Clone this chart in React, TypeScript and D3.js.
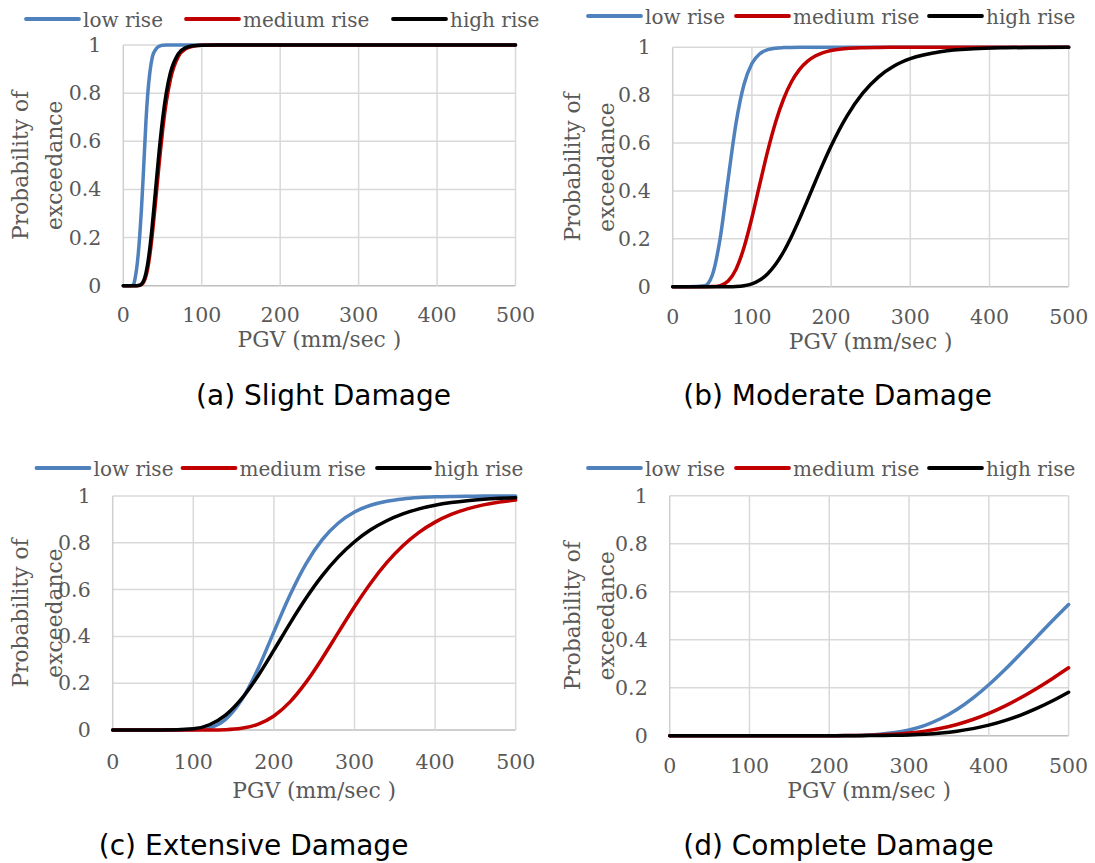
import React from 'react';
import * as d3 from 'd3';

// ---------- data ----------
const seriesNames = ['low rise', 'medium rise', 'high rise'];
const seriesColors = ['#4F81BD', '#C00000', '#000000'];
const panelTitles = ['(a) Slight Damage', '(b) Moderate Damage', '(c) Extensive Damage', '(d) Complete Damage'];
const xTickValues = [0, 100, 200, 300, 400, 500];
const yTickValues = [0, 0.2, 0.4, 0.6, 0.8, 1];
const yTickLabels = ['0', '0.2', '0.4', '0.6', '0.8', '1'];
const xAxisTitle = 'PGV (mm/sec )';
const yAxisTitleLines = ['Probability of', 'exceedance'];

// (a) Slight damage
const slightPGV = [0, 10, 13, 15, 17, 19, 21, 23, 25, 27, 29, 31, 34, 37, 41, 46, 50, 55, 60, 70, 80, 90, 100, 120, 150, 200, 300, 400, 500];
const slightLow = [0, 0, 0.005, 0.03, 0.07, 0.13, 0.21, 0.31, 0.43, 0.56, 0.69, 0.79, 0.89, 0.95, 0.98, 0.995, 0.999, 1, 1, 1, 1, 1, 1, 1, 1, 1, 1, 1, 1];
const slightMedium = [0, 0, 0, 0, 0.0001, 0.0004, 0.0015, 0.0043, 0.0106, 0.0224, 0.0416, 0.07, 0.1315, 0.2134, 0.3444, 0.5167, 0.6416, 0.767, 0.8563, 0.9512, 0.985, 0.9956, 0.9988, 1, 1, 1, 1, 1, 1];
const slightHigh = [0, 0, 0, 0, 0.0001, 0.0006, 0.0022, 0.0063, 0.0148, 0.0302, 0.0545, 0.089, 0.1607, 0.2525, 0.393, 0.568, 0.6886, 0.8046, 0.8836, 0.963, 0.9893, 0.997, 0.9992, 1, 1, 1, 1, 1, 1];

// (b) Moderate damage
const moderatePGV = [0, 20, 40, 50, 60, 70, 80, 90, 100, 110, 120, 130, 140, 150, 160, 170, 180, 190, 200, 220, 240, 260, 280, 300, 340, 380, 420, 460, 500];
const moderateLow = [0, 0, 0.0038, 0.0487, 0.2036, 0.449, 0.684, 0.8447, 0.9323, 0.973, 0.9899, 0.9964, 0.9987, 0.9996, 1, 1, 1, 1, 1, 1, 1, 1, 1, 1, 1, 1, 1, 1, 1];
const moderateMedium = [0, 0, 0, 0.0005, 0.0046, 0.0235, 0.0733, 0.1635, 0.288, 0.429, 0.5675, 0.688, 0.784, 0.856, 0.9068, 0.941, 0.9634, 0.9777, 0.9866, 0.9953, 0.9984, 0.9994, 0.9998, 1, 1, 1, 1, 1, 1];
const moderateHigh = [0, 0, 0, 0, 0, 0.0002, 0.0011, 0.0043, 0.0121, 0.0278, 0.0545, 0.0938, 0.146, 0.21, 0.2823, 0.3598, 0.4384, 0.515, 0.5875, 0.7127, 0.8084, 0.8766, 0.9226, 0.9524, 0.9828, 0.994, 0.998, 0.9993, 0.9998];

// (c) Extensive damage
const extensivePGV = [0, 60, 100, 120, 140, 160, 180, 200, 220, 240, 260, 280, 300, 320, 340, 360, 380, 400, 420, 440, 460, 480, 500];
const extensiveLow = [0, 0, 0.001, 0.0099, 0.0455, 0.1286, 0.2593, 0.4195, 0.5768, 0.711, 0.8133, 0.8847, 0.9314, 0.9604, 0.9777, 0.9876, 0.9933, 0.9964, 0.9981, 0.999, 0.9995, 0.9998, 0.9999];
const extensiveMedium = [0, 0, 0, 0.0002, 0.0014, 0.0072, 0.0241, 0.06, 0.1202, 0.2045, 0.3067, 0.4173, 0.5268, 0.6275, 0.7149, 0.7871, 0.8444, 0.8884, 0.9212, 0.9451, 0.9622, 0.9742, 0.9826];
const extensiveHigh = [0, 0, 0.005, 0.0224, 0.0637, 0.134, 0.23, 0.341, 0.456, 0.5638, 0.6594, 0.7397, 0.8046, 0.8554, 0.8942, 0.9233, 0.9449, 0.9606, 0.9719, 0.9801, 0.9859, 0.99, 0.9929];

// (d) Complete damage
const completePGV = [0, 100, 200, 220, 240, 260, 280, 300, 320, 340, 360, 380, 400, 420, 440, 460, 480, 500];
const completeLow = [0, 0, 0.0001, 0.0006, 0.0019, 0.0052, 0.0119, 0.024, 0.0434, 0.0715, 0.1093, 0.1567, 0.2125, 0.275, 0.342, 0.4108, 0.4797, 0.5463];
const completeMedium = [0, 0, 0.0001, 0.0004, 0.0012, 0.0028, 0.0058, 0.011, 0.0191, 0.0308, 0.0467, 0.0674, 0.0929, 0.1232, 0.158, 0.1966, 0.2386, 0.2832];
const completeHigh = [0, 0, 0, 0, 0.0002, 0.0006, 0.0015, 0.0032, 0.0062, 0.0112, 0.0187, 0.0295, 0.044, 0.0628, 0.0858, 0.1135, 0.1455, 0.1812];

const panelData = [
  { pgv: slightPGV, series: [slightLow, slightMedium, slightHigh] },
  { pgv: moderatePGV, series: [moderateLow, moderateMedium, moderateHigh] },
  { pgv: extensivePGV, series: [extensiveLow, extensiveMedium, extensiveHigh] },
  { pgv: completePGV, series: [completeLow, completeMedium, completeHigh] },
];

// ---------- layout ----------
const layouts = [
  { x0: 123.3, x1: 515.5, y0: 45, y1: 285.7, legendY: 19, legendX: [26, 186, 393], xTickY: 315, xTitleY: 339, yTitleX: [28, 62], titleX: 323.5, titleY: 404.5 },
  { x0: 672.7, x1: 1068.7, y0: 47.3, y1: 286.7, legendY: 16, legendX: [588, 736, 929], xTickY: 316.5, xTitleY: 341, yTitleX: [580, 614], titleX: 837.6, titleY: 405 },
  { x0: 112.7, x1: 515.7, y0: 496, y1: 730, legendY: 468, legendX: [36.5, 182.5, 377], xTickY: 761.7, xTitleY: 790, yTitleX: [28, 62], titleX: 253.6, titleY: 855 },
  { x0: 669.7, x1: 1068.6, y0: 495.7, y1: 735.7, legendY: 468, legendX: [588, 736, 929], xTickY: 765.5, xTitleY: 790, yTitleX: [580, 614], titleX: 838.5, titleY: 855 },
];

const SERIF = '"DejaVu Serif", "Liberation Serif", serif';
const SANS = '"DejaVu Sans", "Noto Sans", sans-serif';
const TEXT_GRAY = '#595959';
const GRID = '#D9D9D9';

function Panel({ index }: { index: number }) {
  const L = layouts[index];
  const D = panelData[index];
  const x = d3.scaleLinear().domain([0, 500]).range([L.x0, L.x1]);
  const y = d3.scaleLinear().domain([0, 1]).range([L.y1, L.y0]);
  const line = d3
    .line<number>()
    .x((_, i) => x(D.pgv[i]))
    .y((v) => y(v))
    .curve(d3.curveMonotoneX);
  const yMid = (L.y0 + L.y1) / 2;
  const xMid = (L.x0 + L.x1) / 2;
  return (
    <g>
      {/* grid */}
      {yTickValues.map((t) => (
        <line key={'gy' + t} x1={L.x0} x2={L.x1} y1={y(t)} y2={y(t)} stroke={t === 0 ? '#BFBFBF' : GRID} strokeWidth={1.5} />
      ))}
      {xTickValues.map((t) => (
        <line key={'gx' + t} x1={x(t)} x2={x(t)} y1={L.y0} y2={L.y1} stroke={t === 0 ? '#CFCFCF' : GRID} strokeWidth={1.5} />
      ))}
      {/* tick labels */}
      {yTickValues.map((t, i) => (
        <text key={'ty' + t} x={L.x0 - 22} y={y(t)} textAnchor="end" dominantBaseline="central" fontFamily={SERIF} fontSize={20.5} fill={TEXT_GRAY}>
          {yTickLabels[i]}
        </text>
      ))}
      {xTickValues.map((t) => (
        <text key={'tx' + t} x={x(t)} y={L.xTickY} textAnchor="middle" dominantBaseline="central" fontFamily={SERIF} fontSize={20.5} fill={TEXT_GRAY}>
          {String(t)}
        </text>
      ))}
      {/* axis titles */}
      <text x={xMid} y={L.xTitleY} textAnchor="middle" dominantBaseline="central" fontFamily={SERIF} fontSize={21.8} fill={TEXT_GRAY}>
        {xAxisTitle}
      </text>
      {yAxisTitleLines.map((s, i) => (
        <text key={'yt' + i} transform={`translate(${L.yTitleX[i]},${yMid}) rotate(-90)`} textAnchor="middle" fontFamily={SERIF} fontSize={21.8} fill={TEXT_GRAY}>
          {s}
        </text>
      ))}
      {/* series */}
      {D.series.map((vals, si) => (
        <path key={'s' + si} d={line(vals) || ''} fill="none" stroke={seriesColors[si]} strokeWidth={3.5} strokeLinejoin="round" strokeLinecap="round" />
      ))}
      {/* legend */}
      {seriesNames.map((name, si) => (
        <g key={'lg' + si}>
          <line x1={L.legendX[si]} x2={L.legendX[si] + 53} y1={L.legendY} y2={L.legendY} stroke={seriesColors[si]} strokeWidth={3.8} strokeLinecap="round" />
          <text x={L.legendX[si] + 57} y={L.legendY + 1} dominantBaseline="central" fontFamily={SERIF} fontSize={20} fill={TEXT_GRAY}>
            {name}
          </text>
        </g>
      ))}
      {/* panel caption */}
      <text x={L.titleX} y={L.titleY} textAnchor="middle" fontFamily={SANS} fontSize={28} fill="#000">
        {panelTitles[index]}
      </text>
    </g>
  );
}

export default function App() {
  return (
    <svg width={1095} height={863} viewBox="0 0 1095 863" style={{ position: 'absolute', left: 0, top: 0, background: '#fff' }}>
      <rect x={0} y={0} width={1095} height={863} fill="#fff" />
      {panelTitles.map((_, i) => (
        <Panel key={i} index={i} />
      ))}
    </svg>
  );
}
